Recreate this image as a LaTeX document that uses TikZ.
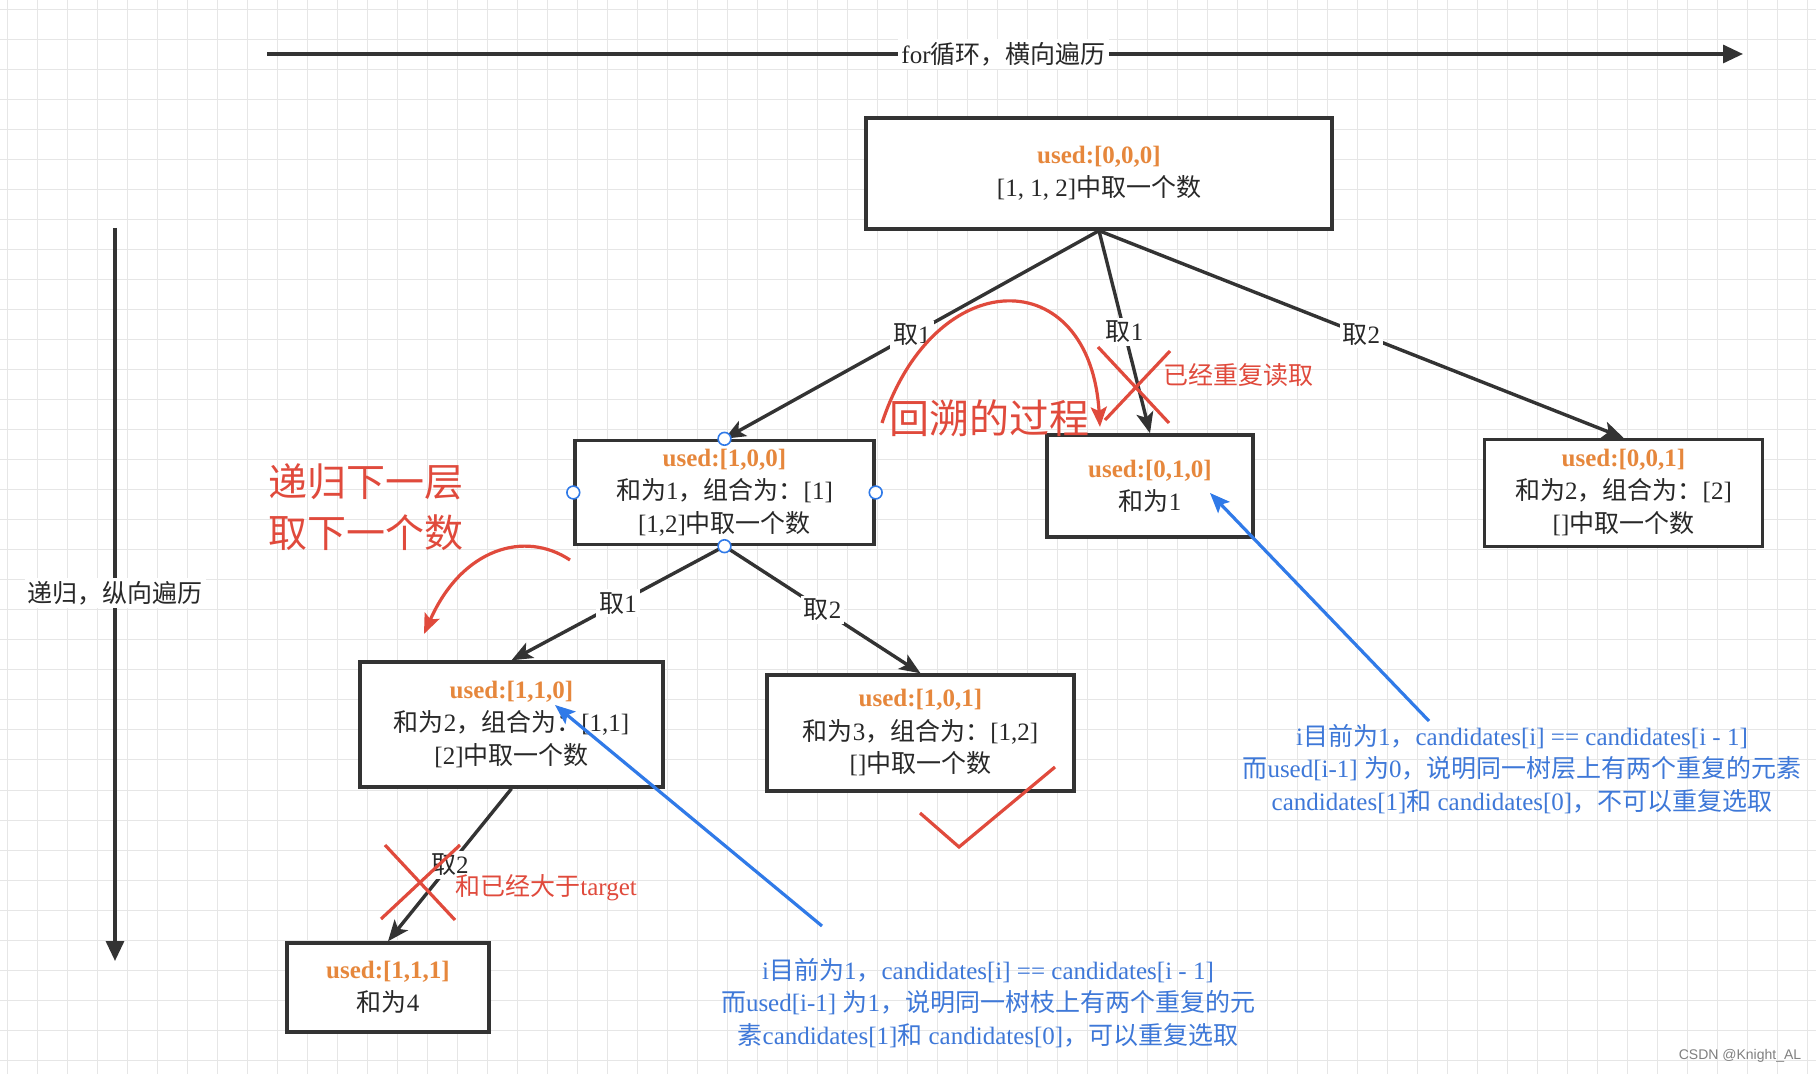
\documentclass[tikz,border=0pt]{standalone}
\usepackage{fontspec}
\setmainfont{Liberation Serif}
\newfontfamily\zhfont{Noto Sans CJK SC}
\newfontfamily\wmfont{Liberation Sans}
\usetikzlibrary{arrows.meta}

% Chinese characters are set in the CJK font
\newXeTeXintercharclass\zhclass
\newcount\zhcode
\def\setzhrange#1#2{\zhcode=#1\relax
  \loop\XeTeXcharclass\zhcode=\zhclass
    \ifnum\zhcode<#2\relax\advance\zhcode by 1\repeat}
\setzhrange{"3000}{"303F}
\setzhrange{"4E00}{"9FFF}
\setzhrange{"FF00}{"FFEF}
\XeTeXinterchartoks 0 \zhclass = {\zhfont}
\XeTeXinterchartoks 4095 \zhclass = {\zhfont}
\XeTeXinterchartoks \zhclass 0 = {\rmfamily}
\XeTeXinterchartoks \zhclass 4095 = {\rmfamily}
\XeTeXinterchartokenstate=1

\definecolor{linegray}{RGB}{51,51,51}
\definecolor{textgray}{RGB}{40,40,40}
\definecolor{gridgray}{RGB}{230,230,230}
\definecolor{usedorange}{RGB}{230,135,60}
\definecolor{markred}{RGB}{224,74,60}
\definecolor{hintblue}{RGB}{48,122,232}
\definecolor{noteblue}{RGB}{62,120,216}

\newcommand{\boxfont}{\fontsize{12.5}{16.5}\selectfont}
\newcommand{\notefont}{\fontsize{12.5}{16.2}\selectfont}
\newcommand{\usedtag}[1]{{\color{usedorange}\bfseries used:[#1]}}

\begin{document}
\begin{tikzpicture}[
   x=0.5pt, y=-0.5pt,
   box/.style={draw=linegray, line width=1.7pt, fill=white, align=center, inner sep=0pt, font=\boxfont, text=textgray},
   lbl/.style={fill=white, inner sep=1.5pt, font=\boxfont, text=textgray},
   arrow/.style={-{Stealth[length=10.5pt,width=8.5pt,inset=2.5pt]}, line width=1.7pt, draw=linegray},
   axis/.style={-{Triangle[length=10pt,width=9pt]}, line width=1.6pt, draw=linegray},
   redtext/.style={text=markred, align=left, inner sep=0pt},
   redmark/.style={draw=markred, line width=1.6pt},
   redarrow/.style={-{Stealth[length=10pt,width=8pt,inset=2pt]}, draw=markred, line width=1.6pt},
   hint/.style={-{Stealth[length=10pt,width=8pt,inset=2pt]}, draw=hintblue, line width=1.6pt},
   note/.style={text=noteblue, align=center, inner sep=0pt, font=\notefont},
   handle/.style={draw=hintblue, fill=white, line width=0.8pt},
   gridline/.style={draw=gridgray, line width=0.5pt}
]
\useasboundingbox (0,0) rectangle (1816,1074);
\fill[white] (0,0) rectangle (1816,1074);

% Grid
\foreach \gx in {7,37,...,1807} \draw[gridline] (\gx,0) -- (\gx,1074);
\foreach \gy in {10,40,...,1070} \draw[gridline] (0,\gy) -- (1816,\gy);

% Axes
\coordinate (forL) at (267,54);
\coordinate (forR) at (1743,54);
\coordinate (recT) at (115,228);
\coordinate (recB) at (115,961);
\draw[axis] (forL) -- node[lbl, pos=0.499]{for循环，横向遍历} (forR);
\draw[axis] (recT) -- node[lbl, pos=0.498]{递归，纵向遍历} (recB);

% Nodes
\node[box, minimum width=233pt, minimum height=55.5pt] (root) at (1099,173.5) {\usedtag{0,0,0}\\{}[1, 1, 2]中取一个数};
\node[box, minimum width=149.5pt, minimum height=52pt] (A) at (724.5,492.5) {\usedtag{1,0,0}\\和为1，组合为：[1]\\{}[1,2]中取一个数};
\node[box, minimum width=103pt, minimum height=51pt] (B) at (1150,486) {\usedtag{0,1,0}\\和为1};
\node[box, minimum width=139pt, minimum height=53.5pt] (C) at (1623.5,493) {\usedtag{0,0,1}\\和为2，组合为：[2]\\{}[]中取一个数};
\node[box, minimum width=151.5pt, minimum height=62.5pt] (D) at (511.5,724.5) {\usedtag{1,1,0}\\和为2，组合为：[1,1]\\{}[2]中取一个数};
\node[box, minimum width=153.5pt, minimum height=58pt] (E) at (920.5,733) {\usedtag{1,0,1}\\和为3，组合为：[1,2]\\{}[]中取一个数};
\node[box, minimum width=101pt, minimum height=44.5pt] (F) at (388,987.5) {\usedtag{1,1,1}\\和为4};

% Edges
\draw[arrow] (root.south) -- node[lbl]{取1} (A.north);
\draw[arrow] (root.south) -- node[lbl]{取1} (B.north);
\draw[arrow] (root.south) -- node[lbl]{取2} (C.north);
\draw[arrow] (A.south) -- node[lbl]{取1} (D.north);
\draw[arrow] (A.south) -- node[lbl]{取2} (E.north);
\draw[arrow] (D.south) -- node[lbl]{取2} (F.north);

\foreach \a in {north,south,east,west} \draw[handle] (A.\a) circle (3.2pt);

% Backtracking
\coordinate (back1) at (882,423);
\coordinate (back2) at (1100,427);
\draw[redarrow] (back1) .. controls (935,262) and (1090,262) .. (back2);
\node[redtext, font=\fontsize{20}{24}\selectfont] (backtxt) at (989,418) {回溯的过程};
\draw[redmark] (1098,347) -- (1169,423) (1170,351) -- (1105,420);
\node[redtext, anchor=west, font=\boxfont] (dupe) at (1163,375) {已经重复读取};

% Recursion
\node[redtext, anchor=west, font=\fontsize{19.5}{25.5}\selectfont] (rectxt) at (268,507) {递归下一层\\取下一个数};
\coordinate (rec1) at (570,560);
\coordinate (rec2) at (424,634);
\draw[redarrow] (rec1) .. controls (525,530) and (462,548) .. (rec2);

% Marks
\draw[redmark] (920,813) -- (959,847) -- (1055,767);
\draw[redmark] (385,845) -- (455,920) (460,845) -- (381,919);
\node[redtext, anchor=west, font=\boxfont] (over) at (455,888) {和已经大于target};

% Hints
\node[note] (noteBranch) at (988,1003) {i目前为1，candidates[i] == candidates[i - 1]\\而used[i-1] 为1，说明同一树枝上有两个重复的元\\素candidates[1]和 candidates[0]，可以重复选取};
\node[note] (noteLayer) at (1522,769) {i目前为1，candidates[i] == candidates[i - 1]\\而used[i-1] 为0，说明同一树层上有两个重复的元素\\candidates[1]和 candidates[0]，不可以重复选取};
\coordinate (hintB) at (822,926);
\coordinate (hintL) at (1429,721);
\draw[hint] (hintB) -- (555,705);
\draw[hint] (hintL) -- (1210,493);

\node[text=gray, font=\wmfont\fontsize{7}{8}\selectfont] (wm) at (1740,1056) {CSDN @Knight\_AL};

\end{tikzpicture}
\end{document}
